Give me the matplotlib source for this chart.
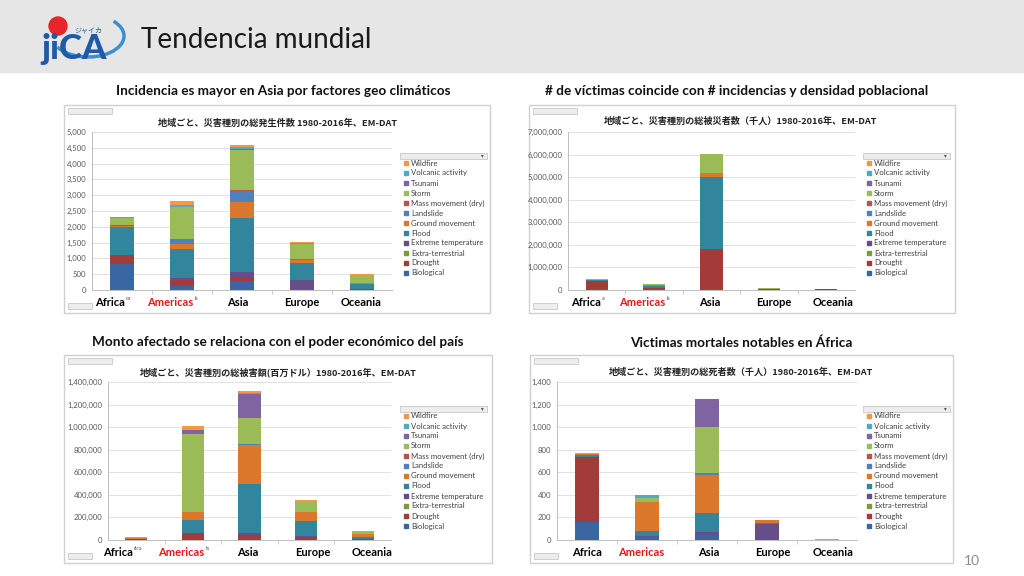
import matplotlib
matplotlib.use("Agg")
import matplotlib.pyplot as plt
from matplotlib.patches import Rectangle, Circle, Arc
from matplotlib.ticker import FuncFormatter
import numpy as np

W, H = 1024, 576

regions = ["Africa", "Americas", "Asia", "Europe", "Oceania"]
hazards = ["Biological", "Drought", "Extra-terrestrial", "Extreme temperature",
           "Flood", "Ground movement", "Landslide", "Mass movement (dry)",
           "Storm", "Tsunami", "Volcanic activity", "Wildfire"]
hazard_colors = ["#3A67A1", "#A23B39", "#7A9A3E", "#654E8A", "#31859C", "#DC782C",
                 "#4F81BD", "#C0504D", "#9BBB59", "#8064A2", "#4BACC6", "#F79646"]

# rows = hazards (bottom -> top), cols = regions
occurrences = [
    [833, 137, 290, 20, 20],
    [264, 190, 110, 15, 15],
    [0, 0, 0, 0, 0],
    [10, 55, 170, 280, 10],
    [876, 915, 1700, 540, 155],
    [30, 170, 515, 110, 20],
    [25, 148, 355, 25, 15],
    [5, 5, 30, 5, 0],
    [235, 995, 1275, 460, 230],
    [2, 10, 25, 2, 5],
    [15, 75, 60, 15, 10],
    [15, 115, 60, 60, 20],
]
affected = [  # thousand people
    [5000, 2000, 5000, 1000, 500],
    [385000, 90000, 1800000, 20000, 25000],
    [0, 0, 0, 0, 0],
    [500, 2000, 30000, 2000, 0],
    [70000, 100000, 3180000, 12000, 6000],
    [2000, 15000, 170000, 18000, 8000],
    [500, 1000, 10000, 500, 100],
    [0, 0, 0, 0, 0],
    [25000, 55000, 830000, 15000, 12000],
    [0, 0, 5000, 0, 0],
    [500, 500, 5000, 100, 500],
    [100, 1000, 1000, 1000, 500],
]
damage = [  # million US$
    [0, 0, 0, 0, 0],
    [9000, 55000, 44000, 27000, 8000],
    [0, 0, 0, 0, 0],
    [500, 7000, 21000, 5000, 500],
    [3000, 115000, 428000, 140000, 17000],
    [4000, 71000, 349000, 77000, 25000],
    [100, 3000, 5000, 1000, 200],
    [0, 0, 0, 0, 0],
    [12000, 690000, 237000, 92000, 24000],
    [0, 30000, 213000, 0, 0],
    [0, 3000, 5000, 0, 0],
    [1500, 33000, 15000, 14000, 3000],
]
deaths = [  # thousand people
    [157, 30, 40, 1, 1],
    [575, 0, 2, 0, 0],
    [0, 0, 0, 0, 0],
    [2, 3, 33, 143, 0.5],
    [20, 45, 160, 4, 1],
    [5, 255, 345, 30, 1],
    [2, 3, 15, 0.5, 0.2],
    [0, 0, 1, 0, 0],
    [8, 38, 405, 2, 2],
    [1, 0, 248, 0, 2],
    [1, 24, 1, 0, 0.2],
    [0, 0, 0, 1, 0],
]

headings = ["Incidencia es mayor en Asia por factores geo climáticos",
            "# de víctimas coincide con # incidencias y densidad poblacional",
            "Monto afectado se relaciona con el poder económico del país",
            "Victimas mortales notables en África"]
chart_titles = ["地域ごと、災害種別の総発生件数 1980-2016年、EM-DAT",
                "地域ごと、災害種別の総被災者数（千人）1980-2016年、EM-DAT",
                "地域ごと、災害種別の総被害額(百万ドル）1980-2016年、EM-DAT",
                "地域ごと、災害種別の総死者数（千人）1980-2016年、EM-DAT"]
y_max = [5000, 7000000, 1400000, 1400]
y_step = [500, 1000000, 200000, 200]

# layout in slide pixels
panels = [
    dict(data=occurrences, box=(64, 105, 490, 313), plot=(92, 132, 392, 290), head=(283, 91),
         title=(278, 123), leg=(400, 153), lab_y=302, lab_x=[110, 170, 238, 302, 361], ghost=["ca", "is"]),
    dict(data=affected, box=(529, 105, 955, 313), plot=(568, 132, 855, 290), head=(737, 91),
         title=(740, 121), leg=(863, 153), lab_y=302, lab_x=[586, 642, 710, 774, 833], ghost=["a", "is"]),
    dict(data=damage, box=(64, 355, 492, 563), plot=(108, 382, 391, 540), head=(278, 342),
         title=(278, 372), leg=(400, 406), lab_y=552, lab_x=[118, 181, 248, 313, 372], ghost=["rica", "ts"]),
    dict(data=deaths, box=(530, 355, 953, 563), plot=(557, 382, 857, 540), head=(741, 343),
         title=(741, 372), leg=(863, 406), lab_y=552, lab_x=[587, 641, 709, 773, 833], ghost=None),
]

LATO = ["Lato", "DejaVu Sans"]
CJK = ["Noto Sans CJK JP", "DejaVu Sans"]

fig = plt.figure(figsize=(W / 100, H / 100), dpi=100)
bg = fig.add_axes([0, 0, 1, 1])
bg.set_xlim(0, W)
bg.set_ylim(H, 0)
bg.axis("off")

# header band + logo + title
bg.add_patch(Rectangle((0, 0), W, 72, color="#E6E6E6", zorder=0))
bg.add_patch(Arc((88, 36), 72, 42, theta1=-30, theta2=160, color="#3D8FD0", lw=2.5))
bg.add_patch(Circle((58, 26), 9, color="#E8262A", zorder=2))
bg.text(41, 59, "jiCA", family=LATO, fontsize=25, fontweight="black", color="#1F5AA6",
        va="baseline", zorder=3)
bg.text(74, 30, "ジャイカ", family=CJK, fontsize=5, color="#1F5AA6", va="center", zorder=3)
bg.text(141, 40, "Tendencia mundial", family=LATO, fontsize=20, fontweight="normal",
        color="#1A1A1A", va="center")
bg.text(980, 561, "10", family=LATO, fontsize=10, color="#8C8C8C", ha="right", va="center")


def px_rect(x0, y0, x1, y1):
    return [x0 / W, 1 - y1 / H, (x1 - x0) / W, (y1 - y0) / H]


for p, head, ctitle, ymax, ystep in zip(panels, headings, chart_titles, y_max, y_step):
    bx0, by0, bx1, by1 = p["box"]
    bg.text(p["head"][0], p["head"][1], head, family=LATO, fontsize=9.8, fontweight="bold",
            color="#111111", ha="center", va="center")
    bg.add_patch(Rectangle((bx0, by0), bx1 - bx0, by1 - by0, facecolor="white",
                           edgecolor="#D0D0D0", lw=1.0, zorder=1))
    # pivot field buttons
    bg.add_patch(Rectangle((bx0 + 4, by0 + 3), 44, 6, facecolor="#EDEDED",
                           edgecolor="#BFBFBF", lw=0.5, zorder=2))
    bg.add_patch(Rectangle((bx0 + 4, by1 - 10), 24, 6, facecolor="#EDEDED",
                           edgecolor="#BFBFBF", lw=0.5, zorder=2))
    bg.text(p["title"][0], p["title"][1], ctitle, family=CJK, fontsize=6.6, fontweight="bold",
            color="#222222", ha="center", va="center", zorder=3)

    # legend (pivot style, top entry = last hazard)
    lx, ly = p["leg"]
    bg.add_patch(Rectangle((lx, ly), 87, 6, facecolor="#EDEDED", edgecolor="#BFBFBF",
                           lw=0.5, zorder=2))
    bg.text(lx + 82, ly + 3, "▾", fontsize=4, color="#555555", ha="center", va="center", zorder=3)
    for k, (name, col) in enumerate(zip(hazards[::-1], hazard_colors[::-1])):
        yy = ly + 10 + k * 10
        bg.add_patch(Rectangle((lx + 4, yy - 2), 4, 4, color=col, zorder=3))
        bg.text(lx + 11, yy, name, family=LATO, fontsize=5.6, color="#404040",
                va="center", zorder=3)

    # stacked bar chart
    ax = fig.add_axes(px_rect(*p["plot"]))
    ax.patch.set_alpha(0)
    vals = np.array(p["data"], dtype=float)
    x = np.arange(len(regions))
    bottom = np.zeros(len(regions))
    for row, col in zip(vals, hazard_colors):
        ax.bar(x, row, bottom=bottom, width=0.39, color=col, zorder=3)
        bottom += row
    ax.set_xlim(-0.5, len(regions) - 0.5)
    ax.set_ylim(0, ymax)
    ax.set_yticks(np.arange(0, ymax + 1, ystep))
    ax.yaxis.set_major_formatter(FuncFormatter(lambda v, _: f"{v:,.0f}"))
    ax.tick_params(axis="y", length=0, labelsize=5.6, labelcolor="#595959", pad=4)
    ax.set_xticks(np.arange(0.5, len(regions) - 1, 1))
    ax.set_xticklabels([])
    ax.tick_params(axis="x", length=3, color="#BFBFBF", width=0.6)
    ax.yaxis.grid(True, color="#DCDCDC", lw=0.6)
    ax.set_axisbelow(True)
    for s in ["top", "right"]:
        ax.spines[s].set_visible(False)
    for s in ["left", "bottom"]:
        ax.spines[s].set_color("#BFBFBF")
        ax.spines[s].set_linewidth(0.7)
    for lab in ax.get_yticklabels():
        lab.set_family(LATO)

    # region labels written over the chart
    for i, (name, lx_) in enumerate(zip(regions, p["lab_x"])):
        bg.text(lx_, p["lab_y"], name, family=LATO, fontsize=8, fontweight="bold",
                color="#E8161B" if name == "Americas" else "black",
                ha="center", va="center", zorder=4)
    if p["ghost"]:
        bg.text(p["lab_x"][0] + 16, p["lab_y"] - 4, p["ghost"][0], family=LATO, fontsize=4,
                color="#555555", va="center", zorder=4)
        bg.text(p["lab_x"][1] + 25, p["lab_y"] - 4, p["ghost"][1], family=LATO, fontsize=4,
                color="#555555", va="center", zorder=4)

fig.savefig("out.png", dpi=100)
